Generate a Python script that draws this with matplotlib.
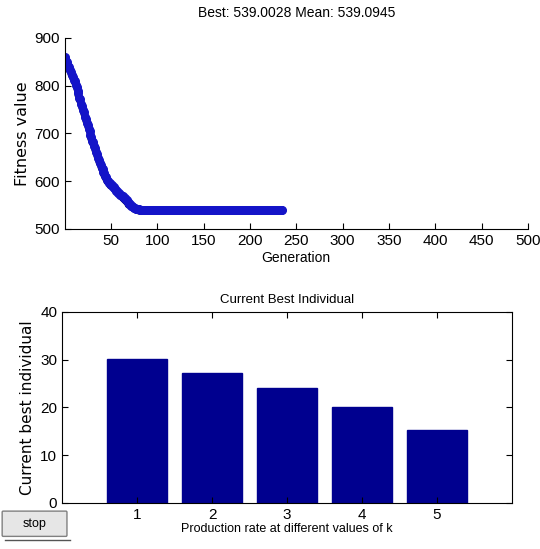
import matplotlib.pyplot as plt
from matplotlib.patches import FancyBboxPatch
from matplotlib.lines import Line2D
import numpy as np

plt.rcParams['font.family'] = ['Liberation Sans', 'DejaVu Sans']

best_head = [855, 850, 845, 840, 835, 830, 825, 820, 815, 810, 805, 800,
             793, 787, 780, 773, 767, 760, 753, 747, 740, 733, 727, 720, 713, 707, 700,
             694, 688, 682, 677, 671, 665, 659, 653, 647, 641, 636, 630,
             626, 621, 617, 613, 609, 604, 600,
             598, 595.5, 593, 591, 589, 587, 585, 583, 581, 579, 577, 575, 573, 571,
             569, 567, 565, 563, 561, 559, 557, 555, 553, 551.5, 550, 548, 546.5, 545,
             543.5, 542.5, 541.5, 541, 540.5, 540.2, 540, 539.8, 539.6, 539.5, 539.4,
             539.3, 539.3, 539.2, 539.2, 539.1, 539.1, 539.1,
             539.0, 539.0, 539.0, 539.0, 539.0, 539.0, 539.0, 539.0]
best_tail = [539.0028] * 135

# mean fitness per generation
mean_head = [859, 852, 849, 842, 839, 832, 829, 822, 819, 812, 809, 802,
             797, 789, 784, 775, 771, 762, 757, 749, 744, 735, 731, 722, 717, 709, 704,
             696, 692, 684, 681, 673, 669, 661, 657, 649, 645, 638, 634,
             628, 625, 619, 617, 611, 608, 602,
             601, 597, 596, 592, 592, 588, 588, 584, 584, 580, 580, 576, 576, 572,
             572, 568, 568, 564, 564, 560, 560, 556, 556, 552, 552, 549, 548, 546,
             544.5, 543.5, 542.5, 541.8, 541.2, 540.8, 540.5, 540.2, 540.0, 539.8, 539.7,
             539.6, 539.5, 539.4, 539.4, 539.3, 539.3, 539.2, 539.2, 539.2, 539.1,
             539.1, 539.1, 539.1, 539.1, 539.1]
mean_tail = [539.0945] * 135

best = best_head + best_tail
mean = mean_head + mean_tail
gen = np.arange(1, len(best) + 1)

k_values = [1, 2, 3, 4, 5]
current_best = [30.2, 27.1, 24.0, 20.0, 15.2]

fig = plt.figure(figsize=(5.4, 5.49), dpi=100)

ax1 = fig.add_axes([0.1195, 0.583, 0.858, 0.348])
ax1.plot(gen, best, '.', color='black', markersize=9)
ax1.plot(gen, mean, '.', color='#1414c8', markersize=11)
ax1.set_xlim(0, 500)
ax1.set_ylim(500, 900)
ax1.set_xticks(np.arange(50, 501, 50))
ax1.set_yticks(np.arange(500, 901, 100))
ax1.spines['top'].set_visible(False)
ax1.spines['right'].set_visible(False)
ax1.tick_params(direction='in', length=4, labelsize=11)
ax1.set_title('Best: 539.0028 Mean: 539.0945', fontsize=10, pad=15)
ax1.set_xlabel('Generation', fontsize=10, labelpad=2)
ax1.set_ylabel('Fitness value', fontsize=11.5, family='DejaVu Sans', labelpad=3)

ax2 = fig.add_axes([0.115, 0.084, 0.833, 0.348])
ax2.bar(k_values, current_best, width=0.8, color='#00008f', edgecolor='#00008f')
ax2.set_xlim(0, 6)
ax2.set_ylim(0, 40)
ax2.set_xticks(k_values)
ax2.set_yticks(np.arange(0, 41, 10))
ax2.tick_params(direction='in', length=4, labelsize=11, top=True, right=True)
ax2.set_title('Current Best Individual', fontsize=9.5, pad=6)
ax2.set_xlabel('Production rate at different values of k', fontsize=9, labelpad=1)
ax2.set_ylabel('Current best individual', fontsize=11, family='DejaVu Sans', labelpad=4)

# stop button
btn = FancyBboxPatch((0.006, 0.025), 0.116, 0.042, boxstyle='round,pad=0.002',
                     transform=fig.transFigure, facecolor='#e6e6e6',
                     edgecolor='#808080', linewidth=1)
fig.patches.append(btn)
fig.text(0.064, 0.046, 'stop', ha='center', va='center', fontsize=9)
fig.lines.append(Line2D([0.01, 0.13], [0.017, 0.017], transform=fig.transFigure,
                        color='#555555', linewidth=1))

fig.savefig('out.png', dpi=100)
